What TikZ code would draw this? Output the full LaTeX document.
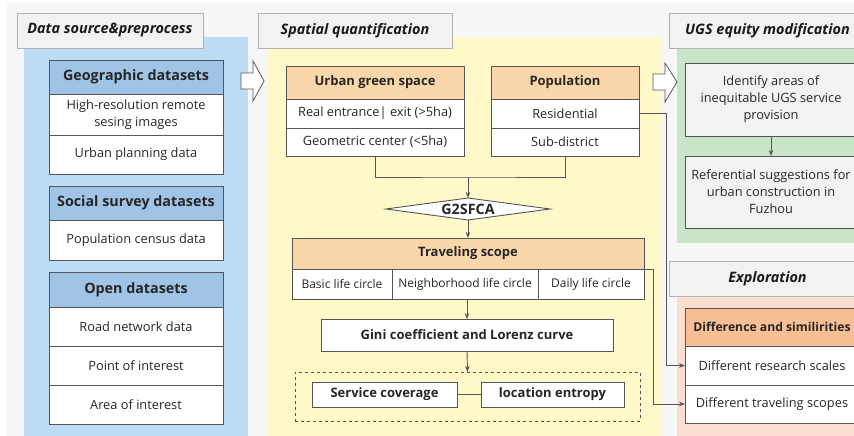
\documentclass[tikz,border=0pt]{standalone}
\usepackage{fontspec}
\setmainfont{Open Sans}
\usetikzlibrary{positioning,shapes.geometric,arrows.meta}

\definecolor{bgpanel}{RGB}{247,247,247}
\definecolor{bluepanel}{RGB}{189,220,246}
\definecolor{bluehead}{RGB}{160,196,230}
\definecolor{yellowpanel}{RGB}{255,248,200}
\definecolor{orangehead}{RGB}{250,215,170}
\definecolor{greenpanel}{RGB}{200,229,202}
\definecolor{peachpanel}{RGB}{250,222,207}
\definecolor{peachhead}{RGB}{248,190,148}
\definecolor{boxgrey}{RGB}{242,242,242}
\definecolor{linegrey}{RGB}{85,85,85}

\tikzset{
  box/.style={draw=linegrey, line width=0.9pt, fill=white, text=black!85,
    inner sep=0pt, outer sep=0pt, align=center,
    font=\fontsize{12.8}{17}\selectfont},
  cell/.style={box, font=\fontsize{12}{15}\selectfont},
  head/.style={box, font=\fontsize{13}{16}\selectfont\bfseries},
  bighead/.style={box, font=\fontsize{14.3}{17}\selectfont\bfseries},
  title/.style={draw=gray!60, fill=boxgrey, line width=0.8pt, minimum height=35,
    inner sep=0pt, outer sep=0pt, text=black!90,
    font=\fontsize{14.4}{17}\selectfont\bfseries\itshape},
  flow/.style={draw=linegrey, line width=0.9pt, -{Stealth[length=6pt,width=4.5pt]}},
  link/.style={draw=linegrey, line width=0.9pt},
  hollow/.style={draw=linegrey, fill=white, line width=0.8pt, line join=miter},
  leftcol/.style={minimum width=174},
}

\begin{document}
\begin{tikzpicture}[x=1pt,y=-1pt]
  \useasboundingbox (0,0) rectangle (854,436);
  \clip (0,0) rectangle (854,436);
  \fill[bgpanel] (7,3) rectangle (854,436);

  % column panels
  \fill[bluepanel] (24,37) rectangle (248,436);
  \fill[yellowpanel] (267,37) rectangle (662,436);
  \fill[greenpanel] (677,48) rectangle (860,243);
  \fill[peachpanel] (677,296) rectangle (860,436);

  % column titles
  \node[title, minimum width=186, anchor=north west] (tdata) at (17,13) {Data source\&preprocess};
  \node[title, minimum width=194, anchor=north west] (tspat) at (258,13) {Spatial quantification};
  \node[title, minimum width=197, anchor=north west] (tugs) at (669,13) {UGS equity modification};
  \node[title, minimum width=197, anchor=north west] (texp) at (669,261) {Exploration};

  % data sources
  \node[bighead, leftcol, fill=bluehead, minimum height=34, anchor=north] (geo) at (136,60) {Geographic datasets};
  \node[box, leftcol, minimum height=41, below=0pt of geo] (geo1) {High-resolution remote\\sesing images};
  \node[box, leftcol, minimum height=39, below=0pt of geo1] (geo2) {Urban planning data};
  \node[bighead, leftcol, fill=bluehead, minimum height=34, anchor=north] (soc) at (136,186) {Social survey datasets};
  \node[box, leftcol, minimum height=40, below=0pt of soc] (soc1) {Population census data};
  \node[bighead, leftcol, fill=bluehead, minimum height=35, anchor=north] (open) at (136,272) {Open datasets};
  \node[box, leftcol, minimum height=39, below=0pt of open] (open1) {Road network data};
  \node[box, leftcol, minimum height=39, below=0pt of open1] (open2) {Point of interest};
  \node[box, leftcol, minimum height=39, below=0pt of open2] (open3) {Area of interest};

  % big hollow arrows between columns
  \draw[hollow] (241,73) -- (253,73) -- (253,61) -- (264,81) -- (253,101) -- (253,89) -- (241,89) -- cycle;
  \draw[hollow] (653,74) -- (665,74) -- (665,63) -- (677,82) -- (665,102) -- (665,90) -- (653,90) -- cycle;

  % spatial quantification
  \node[head, fill=orangehead, minimum width=178, minimum height=33, anchor=north] (ugs) at (375,66) {Urban green space};
  \node[box, minimum width=178, minimum height=29, below=0pt of ugs] (ugs1) {Real entrance| exit (>5ha)};
  \node[box, minimum width=178, minimum height=28, below=0pt of ugs1] (ugs2) {Geometric center (<5ha)};
  \node[head, fill=orangehead, minimum width=148, minimum height=33, anchor=north] (pop) at (565,66) {Population};
  \node[box, minimum width=148, minimum height=29, below=0pt of pop] (pop1) {Residential};
  \node[box, minimum width=148, minimum height=28, below=0pt of pop1] (pop2) {Sub-district};

  \coordinate (join) at (468,177);
  \node[box, diamond, aspect=7.5, minimum width=164, minimum height=22,
    font=\fontsize{14.3}{17}\selectfont\bfseries] (g2s) at (468,209) {G2SFCA};
  \draw[link] (ugs2.south) |- (join) -| (pop2.south);
  \draw[flow] (join) -- (g2s.north);

  \node[head, fill=orangehead, minimum width=352, minimum height=31, anchor=north] (trav) at (468,238) {Traveling scope};
  \node[cell, minimum width=100, minimum height=30, anchor=north west] (basic) at (trav.south west) {Basic life circle};
  \node[cell, minimum width=146, minimum height=30, right=0pt of basic] (nbhd) {Neighborhood life circle};
  \node[cell, minimum width=106, minimum height=30, right=0pt of nbhd] (daily) {Daily life circle};
  \draw[flow] (g2s.south) -- (trav.north);

  \node[head, minimum width=292, minimum height=32, anchor=north] (gini) at (467,319) {Gini coefficient and Lorenz curve};
  \draw[flow] (nbhd.south -| gini.north) -- (gini.north);

  \node[draw=linegrey, dashed, line width=0.9pt, minimum width=345, minimum height=49,
    inner sep=0pt, anchor=north] (metrics) at (467.5,372) {};
  \draw[flow] (gini.south) -- (metrics.north);
  \node[head, minimum width=145, minimum height=25] (cover) at (384.5,394.5) {Service coverage};
  \node[head, minimum width=143, minimum height=25] (entropy) at (552.5,394.5) {location entropy};
  \draw[link] (cover) -- (entropy);

  % equity modification
  \node[box, fill=boxgrey, minimum width=172, minimum height=73, anchor=north west] (ident) at (685,63)
    {Identify areas of\\inequitable UGS service\\provision};
  \node[box, fill=boxgrey, minimum width=172, minimum height=72, anchor=north west] (refs) at (685,156)
    {Referential suggestions for\\urban construction in\\Fuzhou};
  \draw[flow] (ident) -- (refs);

  % exploration
  \node[head, fill=peachhead, minimum width=174, minimum height=38, anchor=north west,
    font=\fontsize{12.2}{15}\selectfont\bfseries] (diff) at (685,308) {Difference and similirities};
  \node[box, minimum width=174, minimum height=39, below=0pt of diff] (scales) {Different research scales};
  \node[box, minimum width=174, minimum height=38, below=0pt of scales] (scopes) {Different traveling scopes};

  \draw[flow] (pop1.east) -- ++(27,0) |- (scales.west);
  \draw[flow] (trav.south east) -- ++(9,0) |- (scopes.west);
\end{tikzpicture}
\end{document}
